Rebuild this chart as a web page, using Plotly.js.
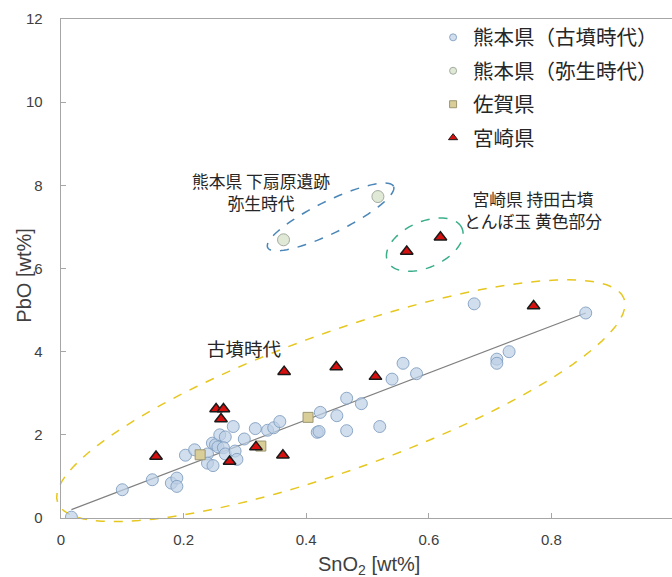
<!DOCTYPE html>
<html>
<head>
<meta charset="utf-8">
<script src="https://cdn.plot.ly/plotly-3.0.1.min.js"></script>
<style>
  html, body { margin: 0; padding: 0; overflow: hidden; background: #ffffff; }
  #chart { width: 674px; height: 577px; }
</style>
</head>
<body>
<div id="chart"></div>
<script>
// ---- Data ----
const seriesNames = ["熊本県（古墳時代）", "熊本県（弥生時代）", "佐賀県", "宮崎県"];

const kumamotoKofunSnO2 = [0.017, 0.100, 0.149, 0.180, 0.189, 0.189, 0.203, 0.218, 0.239, 0.239,
  0.248, 0.247, 0.252, 0.256, 0.259, 0.268, 0.265, 0.268, 0.284, 0.287,
  0.281, 0.299, 0.317, 0.337, 0.347, 0.357, 0.418, 0.421, 0.423, 0.450,
  0.466, 0.466, 0.490, 0.520, 0.540, 0.558, 0.580, 0.674, 0.711, 0.711,
  0.731, 0.856];
const kumamotoKofunPbO = [0.02, 0.68, 0.92, 0.84, 0.96, 0.76, 1.51, 1.64, 1.54, 1.32,
  1.26, 1.80, 1.76, 1.71, 2.00, 1.95, 1.69, 1.54, 1.61, 1.41,
  2.20, 1.90, 2.15, 2.11, 2.17, 2.32, 2.06, 2.08, 2.54, 2.46,
  2.88, 2.10, 2.75, 2.20, 3.34, 3.72, 3.47, 5.15, 3.82, 3.72,
  4.00, 4.93];

const kumamotoYayoiSnO2 = [0.363, 0.517];
const kumamotoYayoiPbO = [6.69, 7.73];

const sagaSnO2 = [0.227, 0.326, 0.403];
const sagaPbO = [1.52, 1.73, 2.42];

const miyazakiSnO2 = [0.155, 0.253, 0.265, 0.261, 0.275, 0.318, 0.362, 0.364, 0.449, 0.513, 0.564, 0.619, 0.771];
const miyazakiPbO = [1.48, 2.62, 2.62, 2.38, 1.36, 1.71, 1.51, 3.52, 3.63, 3.40, 6.41, 6.75, 5.10];

const trendSnO2 = [0.017, 0.856];
const trendPbO = [0.20, 4.93];

const xTickVals = [0, 0.2, 0.4, 0.6, 0.8, 1];
const xTickText = ["0", "0.2", "0.4", "0.6", "0.8", "1"];
const yTickVals = [0, 2, 4, 6, 8, 10, 12];
const yTickText = ["0", "2", "4", "6", "8", "10", "12"];

const xTitle = "SnO<sub>2</sub> [wt%]";
const yTitle = "PbO [wt%]";
const noteYayoi = "熊本県 下扇原遺跡<br>弥生時代";
const noteMochida = "宮崎県 持田古墳<br>とんぼ玉 黄色部分";
const noteKofun = "古墳時代";

// ---- Layout geometry ----
const W = 674, H = 577;
const M = {l: 61, r: 0, t: 19, b: 59};
const xRange = [0, 1], yRange = [0, 12];
const plotW = W - M.l - M.r, plotH = H - M.t - M.b;
const xScale = plotW / (xRange[1] - xRange[0]);
const yScale = plotH / (yRange[1] - yRange[0]);

// dashed ellipse outline in paper coordinates (so it is not clipped at the axes)
// centre in data units, semi-axes in pixels, tilt in degrees
function ellipsePath(cx, cy, aPx, bPx, deg) {
  const th = deg * Math.PI / 180;
  const cxPx = (cx - xRange[0]) * xScale, cyPx = (cy - yRange[0]) * yScale;
  let d = "";
  const n = 90;
  for (let i = 0; i <= n; i++) {
    const t = 2 * Math.PI * i / n;
    const dx = aPx * Math.cos(th) * Math.cos(t) - bPx * Math.sin(th) * Math.sin(t);
    const dy = aPx * Math.sin(th) * Math.cos(t) + bPx * Math.cos(th) * Math.sin(t);
    const px = (cxPx + dx) / plotW, py = (cyPx + dy) / plotH;
    d += (i === 0 ? "M" : "L") + px.toFixed(5) + "," + py.toFixed(5);
  }
  return d + "Z";
}

const CJK = "Noto Sans CJK JP, Noto Sans, sans-serif";
const LAT = "Liberation Sans, Arial, sans-serif";

const kofunMarker = {symbol: "circle", size: 12, color: "rgba(190,208,230,0.7)", line: {color: "rgba(125,155,190,0.85)", width: 1}};
const yayoiMarker = {symbol: "circle", size: 12, color: "#e0e9d6", line: {color: "#a3aba0", width: 1}};
const sagaMarker = {symbol: "square", size: 10, color: "#d9cd98", line: {color: "#9c9672", width: 1}};
const miyaMarker = {symbol: "triangle-up", size: 11, color: "#d80f0f", line: {color: "#1a1a1a", width: 1.5}};

function legendOnly(name, marker, grp) {
  return {x: [null], y: [null], type: "scatter", mode: "markers", name: name,
    legendgroup: grp, showlegend: true, hoverinfo: "skip",
    marker: Object.assign({}, marker, {size: marker.symbol === "triangle-up" ? 8 : 7, line: {color: marker.line.color, width: 1}})};
}

const traces = [
  {x: trendSnO2, y: trendPbO, type: "scatter", mode: "lines", showlegend: false,
   line: {color: "#808080", width: 1.2}, hoverinfo: "skip"},
  {x: kumamotoKofunSnO2, y: kumamotoKofunPbO, type: "scatter", mode: "markers", name: seriesNames[0], showlegend: false, marker: kofunMarker},
  {x: kumamotoYayoiSnO2, y: kumamotoYayoiPbO, type: "scatter", mode: "markers", name: seriesNames[1], showlegend: false, marker: yayoiMarker},
  {x: sagaSnO2, y: sagaPbO, type: "scatter", mode: "markers", name: seriesNames[2], showlegend: false, marker: sagaMarker},
  {x: miyazakiSnO2, y: miyazakiPbO, type: "scatter", mode: "markers", name: seriesNames[3], showlegend: false, marker: miyaMarker},
  legendOnly(seriesNames[0], kofunMarker, "g1"),
  legendOnly(seriesNames[1], yayoiMarker, "g2"),
  legendOnly(seriesNames[2], sagaMarker, "g3"),
  legendOnly(seriesNames[3], miyaMarker, "g4")
];

const axisCommon = {
  showgrid: false, zeroline: false, showline: true, mirror: true,
  linecolor: "#a6a6a6", linewidth: 1.3,
  ticks: "inside", ticklen: 5, tickwidth: 1, tickcolor: "#a6a6a6",
  tickfont: {family: LAT, size: 15, color: "#404040"}
};

const layout = {
  width: W, height: H,
  margin: M,
  paper_bgcolor: "#ffffff", plot_bgcolor: "#ffffff",
  font: {family: LAT, color: "#404040"},
  xaxis: Object.assign({}, axisCommon, {
    range: xRange, tickmode: "array", tickvals: xTickVals, ticktext: xTickText,
    ticklabelstandoff: 8
  }),
  yaxis: Object.assign({}, axisCommon, {
    range: yRange, tickmode: "array", tickvals: yTickVals, ticktext: yTickText,
    ticklabelstandoff: 14
  }),
  showlegend: true,
  legend: {
    x: 0.607, xanchor: "left", y: 1.003, yanchor: "top",
    bgcolor: "rgba(0,0,0,0)", borderwidth: 0,
    font: {family: CJK, size: 20.5, color: "#262626"},
    traceorder: "grouped", tracegroupgap: 3.8
  },
  shapes: [
    {type: "path", xref: "paper", yref: "paper", path: ellipsePath(0.4565, 2.821, 301, 69, 19.8),
     line: {color: "#e6c71e", width: 1.5, dash: "dash"}, fillcolor: "rgba(0,0,0,0)", layer: "below"},
    {type: "path", xref: "paper", yref: "paper", path: ellipsePath(0.4398, 7.24, 70, 16, 26),
     line: {color: "#4a86b8", width: 1.5, dash: "dash"}, fillcolor: "rgba(0,0,0,0)", layer: "below"},
    {type: "path", xref: "paper", yref: "paper", path: ellipsePath(0.5934, 6.573, 40.7, 22.9, 24),
     line: {color: "#3aae8a", width: 1.5, dash: "dash"}, fillcolor: "rgba(0,0,0,0)", layer: "below"}
  ],
  annotations: [
    {x: 0.326, y: 7.847, xref: "x", yref: "y", text: noteYayoi, showarrow: false, align: "center",
     font: {family: CJK, size: 16.8, color: "#262626"}},
    {x: 0.770, y: 7.415, xref: "x", yref: "y", text: noteMochida, showarrow: false, align: "center",
     font: {family: CJK, size: 16.8, color: "#262626"}},
    {x: 0.300, y: 4.088, xref: "x", yref: "y", text: noteKofun, showarrow: false, align: "center",
     font: {family: CJK, size: 18.5, color: "#262626"}},
    {x: 0.5024, y: -0.0956, xref: "paper", yref: "paper", xanchor: "center", yanchor: "middle",
     text: xTitle, showarrow: false, font: {family: LAT, size: 20, color: "#404040"}},
    {x: -0.0604, y: 0.4856, xref: "paper", yref: "paper", xanchor: "center", yanchor: "middle",
     text: yTitle, textangle: -90, showarrow: false, font: {family: LAT, size: 20, color: "#404040"}}
  ]
};

Plotly.newPlot("chart", traces, layout, {displayModeBar: false, staticPlot: true});
</script>
</body>
</html>
